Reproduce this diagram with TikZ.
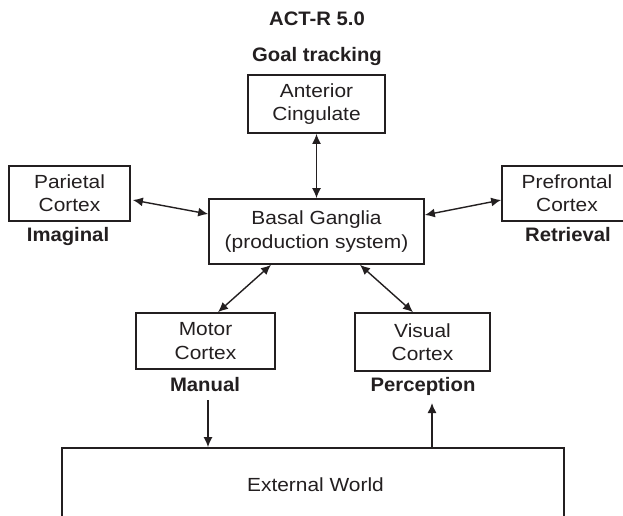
\documentclass[tikz,border=0pt]{standalone}
\usepackage{fontspec}
\setmainfont{Liberation Sans}[FakeStretch=1.1]
\newfontfamily\boldlab{Liberation Sans}[FakeStretch=1.04]
\usetikzlibrary{arrows.meta,calc}
\definecolor{ink}{HTML}{231F20}
\tikzset{
  box/.style={draw=ink, line width=1.7pt, rectangle, align=center, inner sep=0pt,
    font=\fontsize{19}{23.3}\selectfont, text=ink},
  lab/.style={anchor=base, inner sep=0pt, font=\boldlab\bfseries\fontsize{19.5}{23}\selectfont, text=ink},
  conn/.style={draw=ink, line width=1.4pt},
  biarrow/.style={conn, {Latex[length=10pt,width=9pt]}-{Latex[length=10pt,width=9pt]}},
  onearrow/.style={conn, -{Latex[length=10pt,width=9pt]}}
}
\begin{document}
\begin{tikzpicture}[x=1pt,y=-1pt]
\useasboundingbox (0,0) rectangle (623,515);
\clip (0,0) rectangle (623,515);
\fill[white] (0,0) rectangle (623,515);

\node[lab] (title) at (317,25) {ACT-R 5.0};
\node[lab] (goal) at (317,61.7) {Goal tracking};

\node[box, minimum width=137pt, minimum height=58pt] (ant) at (316.5,104) {Anterior\\Cingulate};
\node[box, minimum width=121pt, minimum height=55pt] (par) at (69.5,193.5) {Parietal\\Cortex};
\node[box, minimum width=215pt, minimum height=65pt] (bg) at (316.5,231.5) {Basal Ganglia\\(production system)};
\node[box, minimum width=130pt, minimum height=55pt] (pre) at (567,193.5) {Prefrontal\\Cortex};
\node[box, minimum width=139pt, minimum height=56pt] (mot) at (205.5,341) {Motor\\Cortex};
\node[box, minimum width=135pt, minimum height=58pt] (vis) at (422.5,342) {Visual\\Cortex};
\node[box, minimum width=502pt, minimum height=100pt] (ext) at (313,498) {};
\node[font=\fontsize{19}{23}\selectfont, text=ink, anchor=base, inner sep=0pt] (extlab) at (315.5,491.7) {External World};

\node[lab] (imag) at (68,241.7) {Imaginal};
\node[lab] (retr) at (568,241.7) {Retrieval};
\node[lab] (man) at (205,391.7) {Manual};
\node[lab] (perc) at (423,391.7) {Perception};

\draw[biarrow] (ant.south) -- (bg.north);
\draw[biarrow] ($(par.east)+(2,6.5)$) -- ($(bg.west)+(0,-17.5)$);
\draw[biarrow] ($(bg.east)+(0,-16.5)$) -- ($(pre.west)+(0,6.5)$);
\draw[biarrow] ($(bg.south)+(-45.5,0)$) -- ($(mot.north)+(12.5,0)$);
\draw[biarrow] ($(bg.south)+(43.5,0)$) -- ($(vis.north)+(-9.5,0)$);

\coordinate (mdown) at (208,400);
\coordinate (vup) at (432,403);
\draw[onearrow] (mdown) -- (mdown |- ext.north);
\draw[onearrow] (vup |- ext.north) -- (vup);
\end{tikzpicture}
\end{document}
